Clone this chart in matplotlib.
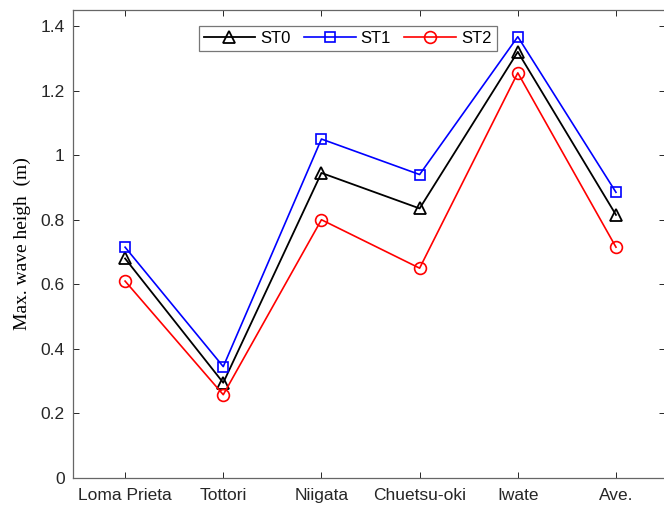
import numpy as np
import matplotlib
matplotlib.use("Agg")
import matplotlib.pyplot as plt

# ------------------------------------------------------------
# Data
# ------------------------------------------------------------
events = ["Loma Prieta", "Tottori", "Niigata", "Chuetsu-oki", "Iwate", "Ave."]
st0 = [0.68, 0.295, 0.945, 0.835, 1.32, 0.815]
st1 = [0.715, 0.345, 1.05, 0.94, 1.367, 0.885]
st2 = [0.61, 0.258, 0.80, 0.65, 1.255, 0.715]

plt.rcParams["font.family"] = ["Liberation Sans", "DejaVu Sans"]

fig = plt.figure(figsize=(6.64, 5.11), dpi=100)
ax = fig.add_axes([0.110, 0.0646, 0.8916, 0.916])

x = np.arange(1, len(events) + 1)

ax.plot(x, st0, color="k", marker="^", markersize=9, markerfacecolor="none",
        markeredgewidth=1.3, linewidth=1.3, label="ST0")
ax.plot(x, st1, color="#0000ff", marker="s", markersize=7.5, markerfacecolor="none",
        markeredgewidth=1.2, linewidth=1.2, label="ST1")
ax.plot(x, st2, color="#ff0000", marker="o", markersize=8.5, markerfacecolor="none",
        markeredgewidth=1.2, linewidth=1.2, label="ST2")

ax.set_xlim(0.47, 6.5)
ax.set_ylim(0, 1.45)
ax.set_xticks(x)
ax.set_xticklabels(events)
ax.set_yticks([0, 0.2, 0.4, 0.6, 0.8, 1.0, 1.2, 1.4])
ax.set_yticklabels(["0", "0.2", "0.4", "0.6", "0.8", "1", "1.2", "1.4"])

ax.tick_params(axis="both", labelsize=12.5, colors="#262626", direction="in",
               length=4, width=0.7, top=True, right=True)
ax.tick_params(axis="x", pad=7)
ax.tick_params(axis="y", pad=6)
for s in ax.spines.values():
    s.set_color("#666666")
    s.set_linewidth(0.9)

ax.set_ylabel("Max. wave heigh  (m)", family=["Liberation Serif", "DejaVu Serif"],
              fontsize=14, labelpad=7)

leg = ax.legend(loc="upper center", bbox_to_anchor=(0.4637, 0.966), ncol=3,
                fontsize=12, frameon=True, fancybox=False, handlelength=3.1,
                columnspacing=0.8, handletextpad=0.3, borderpad=0.3,
                borderaxespad=0)
leg.get_frame().set_edgecolor("#555555")
leg.get_frame().set_linewidth(0.9)

fig.savefig("out.png", dpi=100)
